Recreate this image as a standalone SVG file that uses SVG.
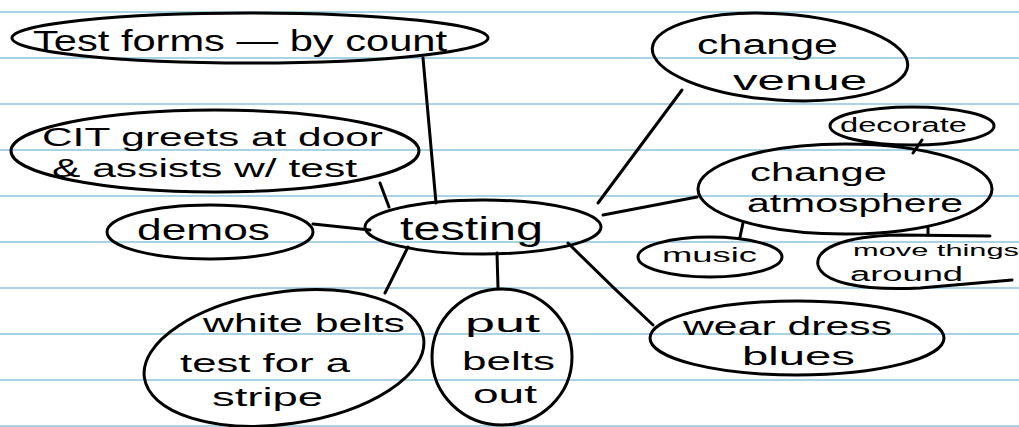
<svg xmlns="http://www.w3.org/2000/svg" width="1019" height="427" viewBox="0 0 1019 427">
<style>
.paper{stroke:#a9d2e2;stroke-width:2}
.shape{fill:none;stroke:#000;stroke-width:3;stroke-linecap:round;stroke-linejoin:round}
.edge{fill:none;stroke:#000;stroke-width:3;stroke-linecap:round}
text{font-family:"Liberation Sans","DejaVu Sans",sans-serif;fill:#000}
</style>
<rect width="1019" height="427" fill="#fff"/>
<g id="paper">
<line class="paper" x1="0" y1="12" x2="1019" y2="12"/>
<line class="paper" x1="0" y1="58" x2="1019" y2="58"/>
<line class="paper" x1="0" y1="104" x2="1019" y2="104"/>
<line class="paper" x1="0" y1="150" x2="1019" y2="150"/>
<line class="paper" x1="0" y1="196" x2="1019" y2="196"/>
<line class="paper" x1="0" y1="242" x2="1019" y2="242"/>
<line class="paper" x1="0" y1="288" x2="1019" y2="288"/>
<line class="paper" x1="0" y1="334" x2="1019" y2="334"/>
<line class="paper" x1="0" y1="380" x2="1019" y2="380"/>
<line class="paper" x1="0" y1="426" x2="1019" y2="426"/>
</g>
<g id="connectors">
<path class="edge" d="M423 58 L436 203"/>
<path class="edge" d="M380 183 L389 207"/>
<path class="edge" d="M313 224 L370 230"/>
<path class="edge" d="M408 247 L385 293"/>
<path class="edge" d="M497 253 L498 288"/>
<path class="edge" d="M568 243 Q610 285 653 325"/>
<path class="edge" d="M598 203 L682 90"/>
<path class="edge" d="M603 215 L697 197"/>
<path class="edge" d="M922 140 L913 153"/>
<path class="edge" d="M743 223 L740 237"/>
<path class="edge" d="M928 228 L928 235"/>
</g>
<g id="test-forms">
<ellipse class="shape" cx="250" cy="38" rx="238" ry="25"/>
<text x="33" y="51" font-size="30" textLength="414" lengthAdjust="spacingAndGlyphs">Test forms — by count</text>
</g>
<g id="cit-greets">
<ellipse class="shape" cx="215" cy="151" rx="204" ry="41"/>
<text x="42" y="146" font-size="26" textLength="341" lengthAdjust="spacingAndGlyphs">CIT greets at door</text>
<text x="52" y="177" font-size="26" textLength="305" lengthAdjust="spacingAndGlyphs">&amp; assists w/ test</text>
</g>
<g id="demos">
<ellipse class="shape" cx="210" cy="232" rx="103" ry="27"/>
<text x="137" y="240" font-size="30" textLength="133" lengthAdjust="spacingAndGlyphs">demos</text>
</g>
<g id="testing">
<ellipse class="shape" cx="483" cy="227" rx="118" ry="27"/>
<text x="400" y="240" font-size="34" textLength="143" lengthAdjust="spacingAndGlyphs">testing</text>
</g>
<g id="white-belts">
<ellipse class="shape" cx="284" cy="358" rx="141" ry="66" transform="rotate(-8 284 358)"/>
<text x="203" y="332" font-size="26" textLength="202" lengthAdjust="spacingAndGlyphs">white belts</text>
<text x="180" y="372" font-size="26" textLength="170" lengthAdjust="spacingAndGlyphs">test for a</text>
<text x="212" y="406" font-size="26" textLength="111" lengthAdjust="spacingAndGlyphs">stripe</text>
</g>
<g id="put-belts-out">
<ellipse class="shape" cx="502" cy="357" rx="70" ry="68"/>
<text x="465" y="332" font-size="26" textLength="75" lengthAdjust="spacingAndGlyphs">put</text>
<text x="462" y="370" font-size="26" textLength="93" lengthAdjust="spacingAndGlyphs">belts</text>
<text x="473" y="403" font-size="26" textLength="64" lengthAdjust="spacingAndGlyphs">out</text>
</g>
<g id="wear-dress-blues">
<ellipse class="shape" cx="797" cy="338" rx="147" ry="37"/>
<text x="683" y="335" font-size="26" textLength="209" lengthAdjust="spacingAndGlyphs">wear dress</text>
<text x="742" y="365" font-size="26" textLength="113" lengthAdjust="spacingAndGlyphs">blues</text>
</g>
<g id="change-venue">
<ellipse class="shape" cx="780" cy="57" rx="128" ry="43" transform="rotate(4 780 57)"/>
<text x="697" y="54" font-size="27" textLength="141" lengthAdjust="spacingAndGlyphs">change</text>
<text x="733" y="90" font-size="27" textLength="134" lengthAdjust="spacingAndGlyphs">venue</text>
</g>
<g id="change-atmosphere">
<ellipse class="shape" cx="845" cy="189" rx="147" ry="45"/>
<text x="750" y="181" font-size="26" textLength="137" lengthAdjust="spacingAndGlyphs">change</text>
<text x="747" y="212" font-size="26" textLength="216" lengthAdjust="spacingAndGlyphs">atmosphere</text>
</g>
<g id="decorate">
<ellipse class="shape" cx="912" cy="126" rx="82" ry="19"/>
<text x="840" y="132" font-size="20" textLength="127" lengthAdjust="spacingAndGlyphs">decorate</text>
</g>
<g id="music">
<ellipse class="shape" cx="710" cy="257" rx="72" ry="20"/>
<text x="662" y="262" font-size="20" textLength="95" lengthAdjust="spacingAndGlyphs">music</text>
</g>
<g id="move-around">
<path class="shape" d="M990 236 L900 235 C840 236 815 250 818 265 C822 282 860 291 920 288 L1012 280"/>
<text x="853" y="256" font-size="17" textLength="166" lengthAdjust="spacingAndGlyphs">move things</text>
<text x="850" y="281" font-size="20" textLength="113" lengthAdjust="spacingAndGlyphs">around</text>
</g>
</svg>
